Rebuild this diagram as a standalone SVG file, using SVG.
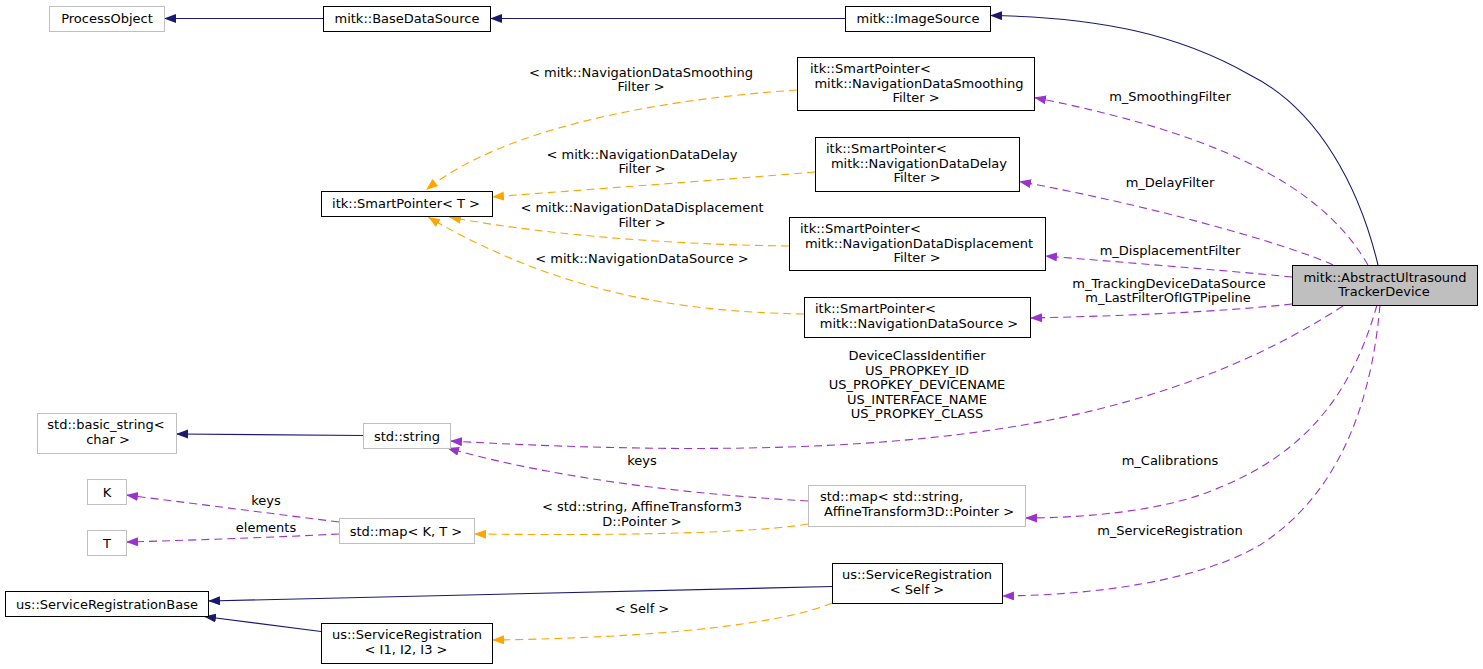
<svg xmlns="http://www.w3.org/2000/svg" width="1483" height="669" viewBox="0 0 1483 669">
<style>
text{font-family:"DejaVu Sans","Noto Sans",sans-serif;font-size:13px;fill:#000}
.c{text-anchor:middle}
.s{text-anchor:start}
.nb{fill:#fff;stroke:#000;stroke-width:1}
.ng{fill:#fff;stroke:#bfbfbf;stroke-width:1}
.nm{fill:#bfbfbf;stroke:#000;stroke-width:1}
.inh{fill:none;stroke:#191970;stroke-width:1.1}
.tpl{fill:none;stroke:#ffa500;stroke-width:1.1;stroke-dasharray:8,5}
.use{fill:none;stroke:#9a32cd;stroke-width:1.1;stroke-dasharray:8,5}
.inh{marker-end:url(#aN)}
.tpl{marker-end:url(#aO)}
.use{marker-end:url(#aP)}
</style>
<defs>
<marker id="aN" markerUnits="userSpaceOnUse" markerWidth="13" markerHeight="10" refX="12" refY="4.5" orient="auto"><path d="M0,0 L12,4.5 L0,9 z" fill="#191970"/></marker>
<marker id="aO" markerUnits="userSpaceOnUse" markerWidth="13" markerHeight="10" refX="12" refY="4.5" orient="auto"><path d="M0,0 L12,4.5 L0,9 z" fill="#ffa500"/></marker>
<marker id="aP" markerUnits="userSpaceOnUse" markerWidth="13" markerHeight="10" refX="12" refY="4.5" orient="auto"><path d="M0,0 L12,4.5 L0,9 z" fill="#9a32cd"/></marker>
</defs>
<rect width="1483" height="669" fill="#fff"/>

<g id="connectors">
<path class="inh" d="M323,18.5 L164,18.5"/>
<path class="inh" d="M845,18.5 L490,18.5"/>
<path class="inh" d="M1378,265 C1360,190 1320,110 1250,75 C1180,35 1100,17 990,15.5"/>
<path class="inh" d="M363,435.5 L176,434"/>
<path class="inh" d="M832,586.5 L208,601"/>
<path class="inh" d="M321,631.5 L204,616.5"/>

<path class="tpl" d="M797,90 C650,100 500,130 426,190"/>
<path class="tpl" d="M815,172 C720,180 580,190 492,197"/>
<path class="tpl" d="M789,246 C700,245 560,238 449,217"/>
<path class="tpl" d="M804,314 C700,312 570,300 428,217"/>
<path class="tpl" d="M808,524 C760,532 650,536 474,534"/>
<path class="tpl" d="M832,603 C780,625 650,638 492,640"/>

<path class="use" d="M1368,265 C1330,200 1250,140 1034,97.5"/>
<path class="use" d="M1333,265 C1290,245 1150,205 1019,181.5"/>
<path class="use" d="M1292,277 C1220,270 1120,262 1045,256"/>
<path class="use" d="M1292,304 C1220,312 1120,316 1030,318"/>
<path class="use" d="M1343,306 C1290,340 1200,390 1050,420 C900,450 700,455 450,441"/>
<path class="use" d="M808,501 C700,495 560,480 447,448"/>
<path class="use" d="M1377,305 C1350,400 1300,460 1200,495 C1150,512 1080,518 1025,518"/>
<path class="use" d="M1380,305 C1370,420 1330,500 1260,545 C1200,580 1100,595 1002,596"/>
<path class="use" d="M339,522 L126,495"/>
<path class="use" d="M339,534 C280,537 200,540 126,542"/>

<text class="c" x="641" y="76.5">&lt; mitk::NavigationDataSmoothing</text>
<text class="c" x="641" y="91">Filter &gt;</text>
<text class="c" x="642" y="158.5">&lt; mitk::NavigationDataDelay</text>
<text class="c" x="642" y="173">Filter &gt;</text>
<text class="c" x="642" y="212">&lt; mitk::NavigationDataDisplacement</text>
<text class="c" x="642" y="226.5">Filter &gt;</text>
<text class="c" x="642" y="262.5">&lt; mitk::NavigationDataSource &gt;</text>
<text class="c" x="1170" y="101">m_SmoothingFilter</text>
<text class="c" x="1170" y="187">m_DelayFilter</text>
<text class="c" x="1170" y="255">m_DisplacementFilter</text>
<text class="c" x="1169" y="287.5">m_TrackingDeviceDataSource</text>
<text class="c" x="1168" y="302">m_LastFilterOfIGTPipeline</text>
<text class="c" x="917" y="360">DeviceClassIdentifier</text>
<text class="c" x="917" y="374.5">US_PROPKEY_ID</text>
<text class="c" x="917" y="389">US_PROPKEY_DEVICENAME</text>
<text class="c" x="917" y="403.5">US_INTERFACE_NAME</text>
<text class="c" x="917" y="418">US_PROPKEY_CLASS</text>
<text class="c" x="642" y="465">keys</text>
<text class="c" x="642" y="511">&lt; std::string, AffineTransform3</text>
<text class="c" x="642" y="525.5">D::Pointer &gt;</text>
<text class="c" x="1170" y="465">m_Calibrations</text>
<text class="c" x="1170" y="535">m_ServiceRegistration</text>
<text class="c" x="266" y="505">keys</text>
<text class="c" x="266" y="531.5">elements</text>
<text class="c" x="642" y="612.5">&lt; Self &gt;</text>
</g>

<g id="node-ProcessObject"><rect class="ng" x="49.5" y="6.5" width="115" height="25"/><text class="c" x="107" y="23">ProcessObject</text></g>
<g id="node-BaseDataSource"><rect class="nb" x="323.5" y="6.5" width="167" height="25"/><text class="c" x="407" y="23">mitk::BaseDataSource</text></g>
<g id="node-ImageSource"><rect class="nb" x="845.5" y="6.5" width="145" height="25"/><text class="c" x="918" y="23">mitk::ImageSource</text></g>
<g id="node-SPSmoothing"><rect class="nb" x="797.5" y="57.5" width="237" height="53"/><text class="s" x="810" y="73">itk::SmartPointer&lt;</text><text class="c" x="919" y="87.5">mitk::NavigationDataSmoothing</text><text class="c" x="916" y="102">Filter &gt;</text></g>
<g id="node-SPDelay"><rect class="nb" x="815.5" y="137.5" width="204" height="54"/><text class="s" x="826" y="153">itk::SmartPointer&lt;</text><text class="c" x="919" y="167.5">mitk::NavigationDataDelay</text><text class="c" x="917" y="182">Filter &gt;</text></g>
<g id="node-SPT"><rect class="nb" x="321.5" y="191.5" width="171" height="25"/><text class="c" x="406" y="208">itk::SmartPointer&lt; T &gt;</text></g>
<g id="node-SPDisplacement"><rect class="nb" x="789.5" y="217.5" width="256" height="53"/><text class="s" x="800" y="233">itk::SmartPointer&lt;</text><text class="c" x="919" y="247.5">mitk::NavigationDataDisplacement</text><text class="c" x="917" y="262">Filter &gt;</text></g>
<g id="node-SPNavSource"><rect class="nb" x="804.5" y="297.5" width="226" height="40"/><text class="s" x="815" y="313">itk::SmartPointer&lt;</text><text class="c" x="919" y="327.5">mitk::NavigationDataSource &gt;</text></g>
<g id="node-AbstractUltrasoundTrackerDevice"><rect class="nm" x="1292.5" y="265.5" width="185" height="40"/><text class="c" x="1385" y="281.5">mitk::AbstractUltrasound</text><text class="c" x="1384" y="296">TrackerDevice</text></g>
<g id="node-basic_string"><rect class="ng" x="37.5" y="413.5" width="139" height="40"/><text class="c" x="106" y="429">std::basic_string&lt;</text><text class="c" x="108" y="443.5">char &gt;</text></g>
<g id="node-string"><rect class="ng" x="363.5" y="423.5" width="87" height="25"/><text class="c" x="407" y="440.5">std::string</text></g>
<g id="node-K"><rect class="ng" x="87.5" y="479.5" width="39" height="25"/><text class="c" x="107" y="496.5">K</text></g>
<g id="node-T"><rect class="ng" x="87.5" y="530.5" width="39" height="25"/><text class="c" x="107" y="547.5">T</text></g>
<g id="node-mapKT"><rect class="ng" x="339.5" y="518.5" width="135" height="25"/><text class="c" x="406" y="535.5">std::map&lt; K, T &gt;</text></g>
<g id="node-mapStringAffine"><rect class="ng" x="808.5" y="485.5" width="217" height="41"/><text class="s" x="820" y="501">std::map&lt; std::string,</text><text class="c" x="919" y="515.5">AffineTransform3D::Pointer &gt;</text></g>
<g id="node-ServiceRegistrationBase"><rect class="nb" x="5.5" y="591.5" width="203" height="25"/><text class="c" x="107" y="608.5">us::ServiceRegistrationBase</text></g>
<g id="node-ServiceRegistrationI1I2I3"><rect class="nb" x="321.5" y="623.5" width="171" height="40"/><text class="c" x="407" y="639">us::ServiceRegistration</text><text class="c" x="406" y="653.5">&lt; I1, I2, I3 &gt;</text></g>
<g id="node-ServiceRegistrationSelf"><rect class="nb" x="832.5" y="563.5" width="170" height="40"/><text class="c" x="917" y="579">us::ServiceRegistration</text><text class="c" x="917" y="593.5">&lt; Self &gt;</text></g>
</svg>
